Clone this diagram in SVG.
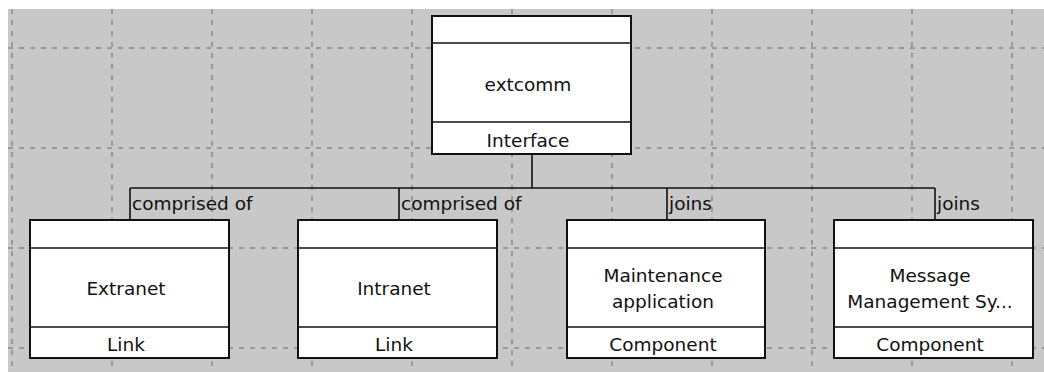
<svg xmlns="http://www.w3.org/2000/svg" width="1044" height="372" viewBox="0 0 1044 372">
<style>
.bg{fill:#c8c8c8}
.grid{stroke:#6a6a6a;stroke-width:1;stroke-dasharray:5 6;fill:none}
.box{fill:#ffffff;stroke:#111;stroke-width:2}
.div{stroke:#111;stroke-width:1.6}
.conn{stroke:#111;stroke-width:1.6;fill:none}
text{font-family:"DejaVu Sans",Verdana,sans-serif;font-size:18.5px;fill:#111}
.c{text-anchor:middle}
</style>
<rect x="0" y="0" width="1044" height="372" fill="#ffffff"/>
<rect class="bg" x="8" y="9" width="1036" height="363"/>
<g id="grid" class="grid">
<path d="M12 9V372M112 9V372M212 9V372M312 9V372M412 9V372M512 9V372M612 9V372M712 9V372M812 9V372M912 9V372M1012 9V372"/>
<path d="M8 48H1044M8 148H1044M8 248H1044M8 348H1044"/>
</g>
<g id="connectors">
<path class="conn" d="M532 154V188M130 188H935M130 188V220M399 188V220M667 188V220M935 188V220"/>
<text x="132" y="210">comprised of</text>
<text x="401" y="210">comprised of</text>
<text x="669" y="210">joins</text>
<text x="937" y="210">joins</text>
</g>
<g id="extcomm">
<rect class="box" x="432" y="16" width="199" height="138"/>
<path class="div" d="M432 43H631M432 122H631"/>
<text class="c" x="528" y="91">extcomm</text>
<text class="c" x="528" y="147">Interface</text>
</g>
<g id="extranet">
<rect class="box" x="30" y="220" width="199" height="138"/>
<path class="div" d="M30 248H229M30 327H229"/>
<text class="c" x="126" y="295">Extranet</text>
<text class="c" x="126" y="351">Link</text>
</g>
<g id="intranet">
<rect class="box" x="298" y="220" width="199" height="138"/>
<path class="div" d="M298 248H497M298 327H497"/>
<text class="c" x="394" y="295">Intranet</text>
<text class="c" x="394" y="351">Link</text>
</g>
<g id="maintenance">
<rect class="box" x="567" y="220" width="198" height="138"/>
<path class="div" d="M567 248H765M567 327H765"/>
<text class="c" x="663" y="282">Maintenance</text>
<text class="c" x="663" y="308">application</text>
<text class="c" x="663" y="351">Component</text>
</g>
<g id="message">
<rect class="box" x="834" y="220" width="199" height="138"/>
<path class="div" d="M834 248H1033M834 327H1033"/>
<text class="c" x="930" y="282">Message</text>
<text class="c" x="930" y="308">Management Sy...</text>
<text class="c" x="930" y="351">Component</text>
</g>
</svg>
